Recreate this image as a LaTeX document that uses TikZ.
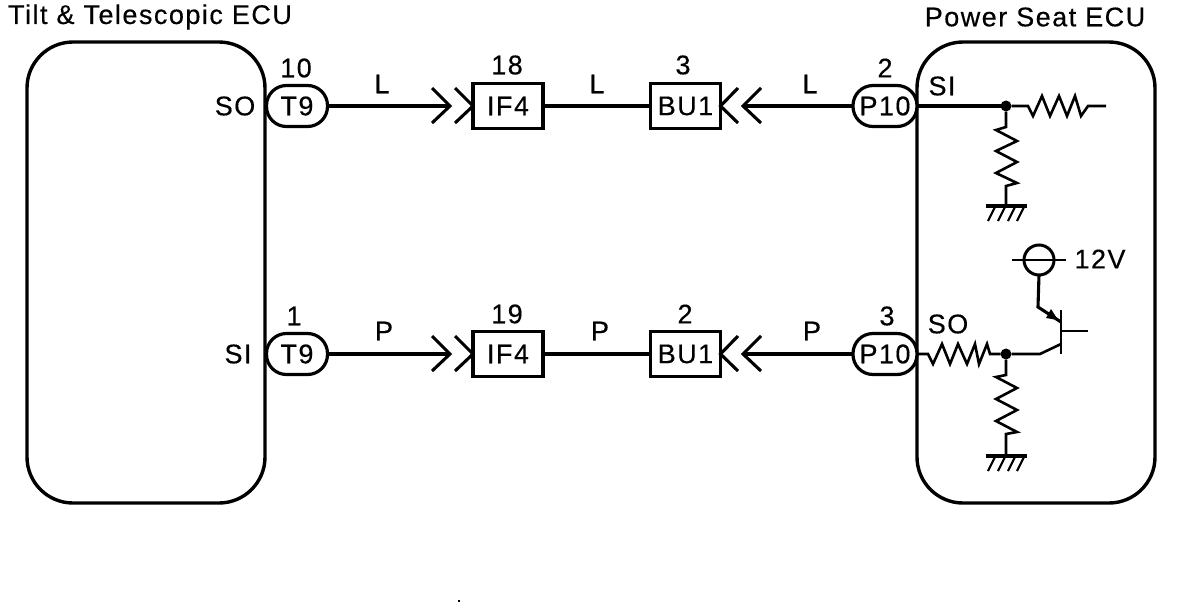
\documentclass[tikz,border=0pt]{standalone}
\usepackage{fontspec}
\setmainfont[LetterSpace=5.5,FakeBold=0.4]{Liberation Sans}
\begin{document}
\begin{tikzpicture}[x=1pt,y=-1pt,
  every node/.style={font=\fontsize{27}{27}\selectfont,inner sep=0pt,outer sep=0pt},
  ecu/.style={draw,line width=3.4pt,rounded corners=46pt,minimum width=238pt,minimum height=461pt},
  pill/.style={draw,line width=3.2pt,rounded corners=20pt,minimum height=41pt},
  conbox/.style={draw,line width=3.6pt,minimum height=45pt,minimum width=70pt},
  wire/.style={line width=3.1pt},
  thin wire/.style={line width=2.6pt},
  chev/.style={line width=3.1pt,line join=miter},
  dotj/.style={circle,fill=black,minimum size=11pt}
]
\useasboundingbox (0,0) rectangle (1184,606);
% ECUs
\node[ecu] (left) at (146,272.5) {};
\node[ecu] (right) at (1036,272.5) {};
\node (ltitle) at (150,17) {Tilt \& Telescopic ECU};
\node (rtitle) at (1035,17) {Power Seat ECU};
% Connectors top
\node[pill,minimum width=61pt,fill=white] (t9a) at (297,106) {T9};
\node[conbox] (if4a) at (508,106) {IF4};
\node[conbox] (bu1a) at (685.5,106) {BU1};
\node[pill,minimum width=64pt,fill=white] (p10a) at (885,106) {P10};
% Connectors bottom
\node[pill,minimum width=61pt,fill=white] (t9b) at (297,354) {T9};
\node[conbox] (if4b) at (508,354) {IF4};
\node[conbox] (bu1b) at (685.5,354) {BU1};
\node[pill,minimum width=64pt,fill=white] (p10b) at (885,354) {P10};
% Pin numbers and labels
\node at (296,68) {10};
\node at (507,65) {18};
\node at (683,65) {3};
\node at (885,68) {2};
\node at (294,316) {1};
\node at (507,314) {19};
\node at (685,314) {2};
\node at (887,316) {3};
\node at (382,84) {L};
\node at (597,84) {L};
\node at (810,84) {L};
\node at (384,331) {P};
\node at (600,331) {P};
\node at (812,331) {P};
\node at (235,106) {SO};
\node at (238,354) {SI};
\node at (942,86) {SI};
\node at (948,324) {SO};
\node at (1100,259) {12V};
% Chevrons and wires, top
\coordinate (tipa1) at (450,106);
\coordinate (tipa2) at (743,106);
\draw[wire] (t9a.east) -- (tipa1);
\draw[chev] (432,88) -- (tipa1) -- (432,123);
\draw[chev] (455,88) -- (if4a.west) -- (455,123);
\draw[wire] (if4a.east) -- (bu1a.west);
\draw[chev] (738,88) -- (bu1a.east) -- (738,123);
\draw[chev] (761,88) -- (tipa2) -- (761,123);
\draw[wire] (p10a.west) -- (tipa2);
% Chevrons and wires, bottom
\coordinate (tipb1) at (450,354);
\coordinate (tipb2) at (743,354);
\draw[wire] (t9b.east) -- (tipb1);
\draw[chev] (432,336) -- (tipb1) -- (432,371);
\draw[chev] (455,336) -- (if4b.west) -- (455,371);
\draw[wire] (if4b.east) -- (bu1b.west);
\draw[chev] (738,336) -- (bu1b.east) -- (738,371);
\draw[chev] (761,336) -- (tipb2) -- (761,371);
\draw[wire] (p10b.west) -- (tipb2);
% Power Seat ECU, upper circuit
\node[dotj] (j1) at (1006,106) {};
\node[dotj] (j2) at (1006,354) {};
\coordinate (r1end) at (1106,106);
\coordinate (g1) at (1006,206);
\coordinate (g2) at (1006,456);
\draw[wire] (p10a.east) -- (j1);
\draw[thin wire,line join=miter] (j1) -- (1028,106) -- (1033,116) -- (1042,96) -- (1050,116) -- (1059,96) -- (1067,116) -- (1075,96) -- (1081,116) -- (1088,106) -- (r1end);
\draw[thin wire] (j1) -- (1006,127) -- (996,130) -- (1017,141) -- (996,151) -- (1017,162) -- (996,173) -- (1017,183) -- (1006,186) -- (g1);
\draw[line width=3.6pt] (986,206) -- (1027,206);
\foreach \x in {995,1005,1015,1024} \draw[line width=2.2pt] (\x,207) -- (\x-7,221);
% Power Seat ECU, lower circuit
\draw[thin wire] (p10b.east) -- (928,354) -- (933,364) -- (942,344) -- (950,364) -- (958,344) -- (967,364) -- (975,344) -- (979,364) -- (987,344) -- (990,354) -- (j2);
\draw[thin wire] (j2) -- (1006,375) -- (996,377) -- (1017,388) -- (996,399) -- (1017,410) -- (996,421) -- (1017,432) -- (1006,434) -- (g2);
\draw[line width=3.6pt] (986,456) -- (1027,456);
\foreach \x in {995,1005,1015,1024} \draw[line width=2.2pt] (\x,457) -- (\x-7,471);
% Transistor
\coordinate (b1) at (1061,310);
\coordinate (b2) at (1061,354);
\coordinate (bout) at (1088,331);
\draw[thin wire] (b1) -- (b2);
\draw[thin wire] (1061,331) -- (bout);
\draw[thin wire] (j2) -- (1040,354) -- (1061,344);
\node[circle,draw,line width=3pt,minimum size=30pt] (supply) at (1039,260) {};
\coordinate (sl) at (1012,260);
\coordinate (sr) at (1066,260);
\draw[thin wire] (sl) -- (sr);
\draw[wire] (supply.south) -- (1038,307) -- (1061,322);
\fill (1058,320) -- (1046,318) -- (1051,309) -- cycle;
% stray speck
\fill (458,600) rectangle (460,602);
\end{tikzpicture}
\end{document}
